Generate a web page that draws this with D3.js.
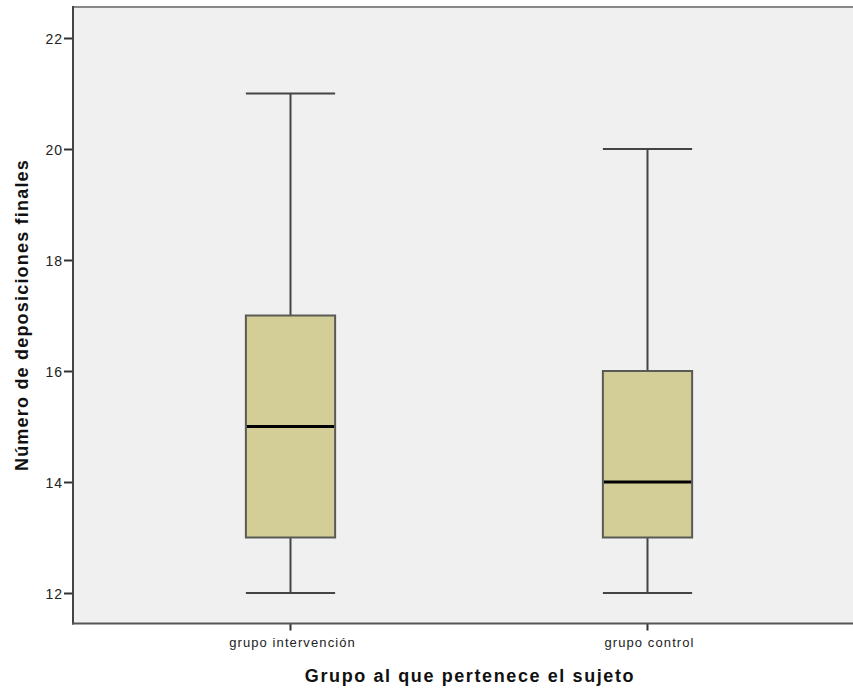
<!DOCTYPE html>
<html><head><meta charset="utf-8">
<script src="https://cdn.jsdelivr.net/npm/d3@7"></script>
<style>body{margin:0;background:#fff;} text{font-family:Arial,"Liberation Sans",sans-serif;}</style>
</head><body>
<svg id="c" width="853" height="690"></svg>
<script>
const groups = ["grupo intervención", "grupo control"];
const mins = [12, 12];
const q1s = [13, 13];
const medians = [15, 14];
const q3s = [17, 16];
const maxs = [21, 20];
const yTicks = [12, 14, 16, 18, 20, 22];

(function(){
const svg = d3.select("#c");
const y = d3.scaleLinear().domain([12, 22]).range([593, 38]);
const x = d3.scaleBand().domain(groups).range([112, 826]);
const pL = 73, pR = 853, pT = y(22.56), pB = y(11.45);

svg.append("rect").attr("x", pL).attr("y", pT).attr("width", pR - pL).attr("height", pB - pT)
  .attr("fill", "#f0f0f0");
svg.append("line").attr("x1", pL).attr("x2", pR).attr("y1", pT).attr("y2", pT)
  .attr("stroke", "#888").attr("stroke-width", 2);

const bw = x.bandwidth() * 0.25;
const cw = x.bandwidth() * 0.125;
groups.forEach((g, i) => {
  const cx = x(g) + x.bandwidth() / 2;
  const G = svg.append("g");
  G.append("line").attr("x1", cx).attr("x2", cx).attr("y1", y(maxs[i])).attr("y2", y(q3s[i])).attr("stroke", "#444").attr("stroke-width", 2);
  G.append("line").attr("x1", cx).attr("x2", cx).attr("y1", y(q1s[i])).attr("y2", y(mins[i])).attr("stroke", "#444").attr("stroke-width", 2);
  G.append("line").attr("x1", cx - cw).attr("x2", cx + cw).attr("y1", y(maxs[i])).attr("y2", y(maxs[i])).attr("stroke", "#444").attr("stroke-width", 2);
  G.append("line").attr("x1", cx - cw).attr("x2", cx + cw).attr("y1", y(mins[i])).attr("y2", y(mins[i])).attr("stroke", "#444").attr("stroke-width", 2);
  G.append("rect").attr("x", cx - bw / 2).attr("y", y(q3s[i])).attr("width", bw).attr("height", y(q1s[i]) - y(q3s[i]))
    .attr("fill", "#d3ce98").attr("stroke", "#5a5a55").attr("stroke-width", 2);
  G.append("line").attr("x1", cx - bw / 2 + 1).attr("x2", cx + bw / 2 - 1).attr("y1", y(medians[i])).attr("y2", y(medians[i])).attr("stroke", "#000").attr("stroke-width", 3);
});

// y axis
const ya = svg.append("g").attr("transform", `translate(${pL},0)`)
  .call(d3.axisLeft(y).tickValues(yTicks).tickSize(9).tickPadding(1).tickFormat(d3.format("d")));
ya.select(".domain").remove();
ya.selectAll(".tick line").attr("stroke", "#333").attr("stroke-width", 2);
ya.selectAll(".tick text").attr("fill", "#222").style("font-size", "14px").style("letter-spacing", "1px").attr("dy", "0.36em");
svg.append("line").attr("x1", pL).attr("x2", pL).attr("y1", pT - 1).attr("y2", pB + 1).attr("stroke", "#444").attr("stroke-width", 2);

// x axis
const xa = svg.append("g").attr("transform", `translate(0,${pB})`)
  .call(d3.axisBottom(x).tickSize(7).tickPadding(7));
xa.select(".domain").remove();
xa.selectAll(".tick line").attr("stroke", "#333").attr("stroke-width", 2);
xa.selectAll(".tick text").attr("fill", "#222").style("font-size", "13px").style("letter-spacing", "1.1px").attr("x", 2);
svg.append("line").attr("x1", pL - 1).attr("x2", pR).attr("y1", pB).attr("y2", pB).attr("stroke", "#555").attr("stroke-width", 2);

svg.append("text").attr("x", 470).attr("y", 682).attr("text-anchor", "middle")
  .style("font-size", "18px").style("font-weight", "bold").style("letter-spacing", "1.6px").attr("fill", "#111").text("Grupo al que pertenece el sujeto");
svg.append("text").attr("transform", "translate(28,315) rotate(-90)").attr("text-anchor", "middle")
  .style("font-size", "18px").style("font-weight", "bold").style("letter-spacing", "1.2px").attr("fill", "#111").text("Número de deposiciones finales");
})();
</script>
</body></html>
